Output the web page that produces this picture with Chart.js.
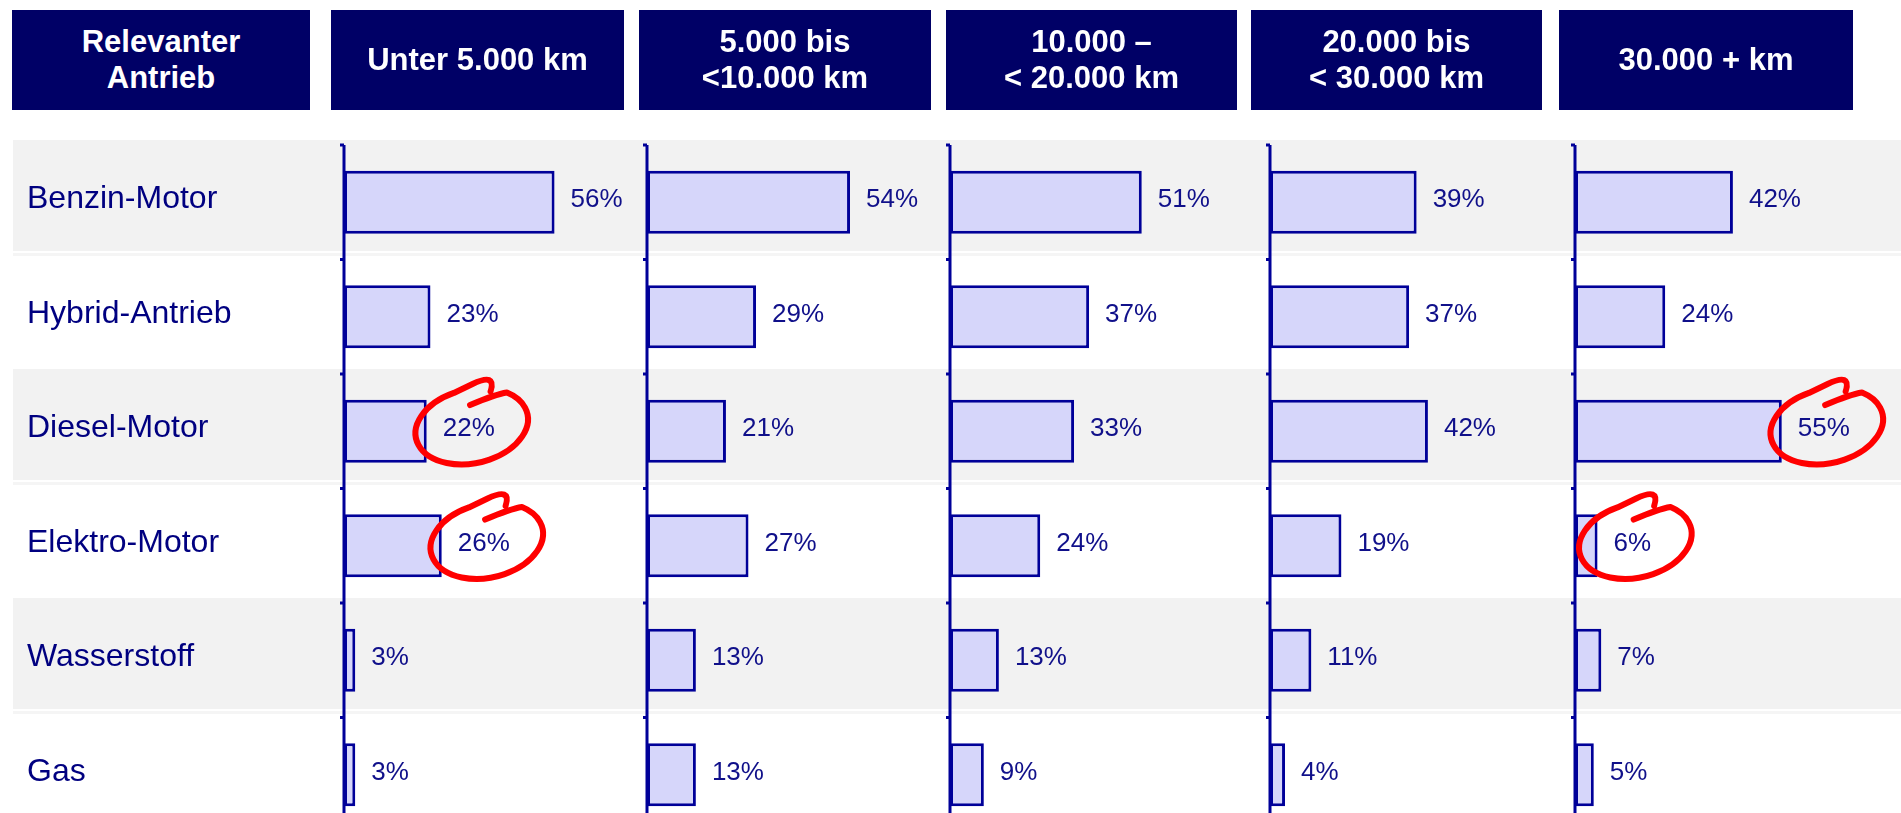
<!DOCTYPE html>
<html lang="de">
<head>
<meta charset="utf-8">
<title>Relevanter Antrieb nach Fahrleistung</title>
<script src="https://cdn.jsdelivr.net/npm/chart.js@4.4.1/dist/chart.umd.min.js"></script>
<style>
    html, body {
        margin: 0;
        padding: 0;
        background: #fff;
        width: 1901px;
        height: 813px;
        overflow: hidden;
        font-family: "Liberation Sans", Arial, sans-serif;
    }
    #wrap {
        position: absolute;
        left: 0;
        top: 0;
        width: 1901px;
        height: 880px;
    }
    .head {
        position: absolute;
        top: 10px;
        height: 100px;
        background: #000066;
        color: #fff;
        font-weight: bold;
        font-size: 31px;
        line-height: 36px;
        display: flex;
        align-items: center;
        justify-content: center;
        text-align: center;
        white-space: pre-line;
        z-index: 2;
    }
</style>
</head>
<body>
<div id="heads"></div>
<div id="wrap"><canvas id="chart"></canvas></div>
<script>
// ============================================
// DATA
// ============================================

const antriebe = ['Benzin-Motor', 'Hybrid-Antrieb', 'Diesel-Motor', 'Elektro-Motor', 'Wasserstoff', 'Gas'];
const kopfzeile = ['Relevanter\nAntrieb', 'Unter 5.000 km', '5.000 bis\n<10.000 km', '10.000 –\n< 20.000 km', '20.000 bis\n< 30.000 km', '30.000 + km'];

// Anteile in % je Fahrleistung
const unter5000 = [56, 23, 22, 26, 3, 3];
const bis10000  = [54, 29, 21, 27, 13, 13];
const bis20000  = [51, 37, 33, 24, 13, 9];
const bis30000  = [39, 37, 42, 19, 11, 4];
const ab30000   = [42, 24, 55, 6, 7, 5];

// markierte Werte (Spalte, Zeile)
const markiert = [[0, 2], [0, 3], [4, 2], [4, 3]];

// ============================================
// LAYOUT
// ============================================

const series = [unter5000, bis10000, bis20000, bis30000, ab30000];
const headBoxes = [[12, 298], [331, 293], [639, 292], [946, 291], [1251, 291], [1559, 294]];
const panelWidths = [303, 303, 320, 305, 326];
const pxPerPct = 3.76;

const NAVY = '#000099';
const TEXT = '#000080';
const FONT = '"Liberation Sans", Arial, sans-serif';

// header boxes
const heads = document.getElementById('heads');
kopfzeile.forEach((txt, i) => {
    const d = document.createElement('div');
    d.className = 'head';
    d.style.left = headBoxes[i][0] + 'px';
    d.style.width = headBoxes[i][1] + 'px';
    d.textContent = txt;
    heads.appendChild(d);
});

Chart.defaults.font.family = FONT;

// gray row bands
const bandsPlugin = {
    id: 'bands',
    beforeDraw(chart) {
        const { ctx } = chart;
        const y = chart.scales.y;
        const pitch = (y.bottom - y.top) / antriebe.length;
        antriebe.forEach((_, i) => {
            if (i % 2) return;
            const top = y.getPixelForValue(i) - pitch / 2 - 5;
            ctx.fillStyle = '#F2F2F2';
            ctx.fillRect(13, top, chart.width - 13, pitch - 3.5);
            ctx.fillStyle = '#F5F5F5';
            ctx.fillRect(13, top + pitch - 1.5, chart.width - 13, 3);
        });
    }
};

// vertical axis line per panel + small ticks
const axisPlugin = {
    id: 'panelAxis',
    afterDatasetsDraw(chart) {
        const { ctx, chartArea } = chart;
        const y = chart.scales.y;
        const pitch = (y.bottom - y.top) / antriebe.length;
        ctx.save();
        ctx.strokeStyle = NAVY;
        ctx.lineWidth = 3;
        series.forEach((_, i) => {
            const px = chart.scales['x' + i].getPixelForValue(0);
            ctx.beginPath();
            ctx.moveTo(px, chartArea.top);
            ctx.lineTo(px, chartArea.bottom);
            for (let r = 0; r < antriebe.length; r++) {
                const ty = chartArea.top + r * pitch;
                ctx.moveTo(px - 4, ty);
                ctx.lineTo(px, ty);
            }
            ctx.stroke();
        });
        ctx.restore();
    }
};

// value labels and red marks
const labelPlugin = {
    id: 'valueLabels',
    afterDatasetsDraw(chart) {
        const { ctx } = chart;
        ctx.save();
        ctx.font = '26px ' + FONT;
        ctx.textBaseline = 'middle';
        ctx.textAlign = 'left';
        chart.data.datasets.forEach((ds, i) => {
            chart.getDatasetMeta(i).data.forEach((bar, j) => {
                const txt = ds.data[j] + '%';
                const tx = bar.x + 16;
                const ty = bar.y - 2;
                ctx.fillStyle = '#10108A';
                ctx.fillText(txt, tx, ty);

                const hit = markiert.some(m => m[0] === i && m[1] === j);
                if (!hit) return;
                const w = ctx.measureText(txt).width;
                ctx.save();
                ctx.translate(tx + w / 2 + 3, ty - 3);
                ctx.rotate(-0.22);
                ctx.strokeStyle = '#FF0000';
                ctx.lineWidth = 6;
                ctx.lineCap = 'round';
                ctx.lineJoin = 'round';
                ctx.beginPath();
                ctx.moveTo(26, -30);
                ctx.quadraticCurveTo(36, -47, 10, -41);
                ctx.ellipse(0, 0, 57, 37, 0, -1.75, -2 * Math.PI - 0.75, true);
                ctx.quadraticCurveTo(30, -26, 3, -21);
                ctx.stroke();
                ctx.restore();
            });
        });
        ctx.restore();
    }
};

const scales = {
    y: {
        type: 'category',
        position: 'left',
        grid: { display: false },
        border: { display: false },
        ticks: {
            crossAlign: 'far',
            color: TEXT,
            padding: 0,
            labelOffset: -3,
            font: { size: 32, family: FONT }
        },
        afterFit: scale => { scale.width = 317; }
    }
};

series.forEach((_, i) => {
    scales['x' + i] = {
        axis: 'x',
        type: 'linear',
        position: 'bottom',
        stack: 'panels',
        stackWeight: panelWidths[i],
        min: 0,
        max: panelWidths[i] / pxPerPct,
        display: false
    };
});

new Chart(document.getElementById('chart'), {
    type: 'bar',
    data: {
        labels: antriebe,
        datasets: series.map((d, i) => ({
            label: kopfzeile[i + 1],
            data: d,
            xAxisID: 'x' + i,
            yAxisID: 'y',
            grouped: false,
            backgroundColor: '#D6D6FA',
            borderColor: NAVY,
            borderWidth: 3,
            borderSkipped: false,
            barPercentage: 0.55,
            categoryPercentage: 1
        }))
    },
    options: {
        indexAxis: 'y',
        responsive: true,
        maintainAspectRatio: false,
        animation: false,
        layout: { padding: { left: 27, top: 145, right: 0, bottom: 48 } },
        plugins: {
            legend: { display: false },
            tooltip: { enabled: false }
        },
        scales: scales
    },
    plugins: [bandsPlugin, axisPlugin, labelPlugin]
});
</script>
</body>
</html>
